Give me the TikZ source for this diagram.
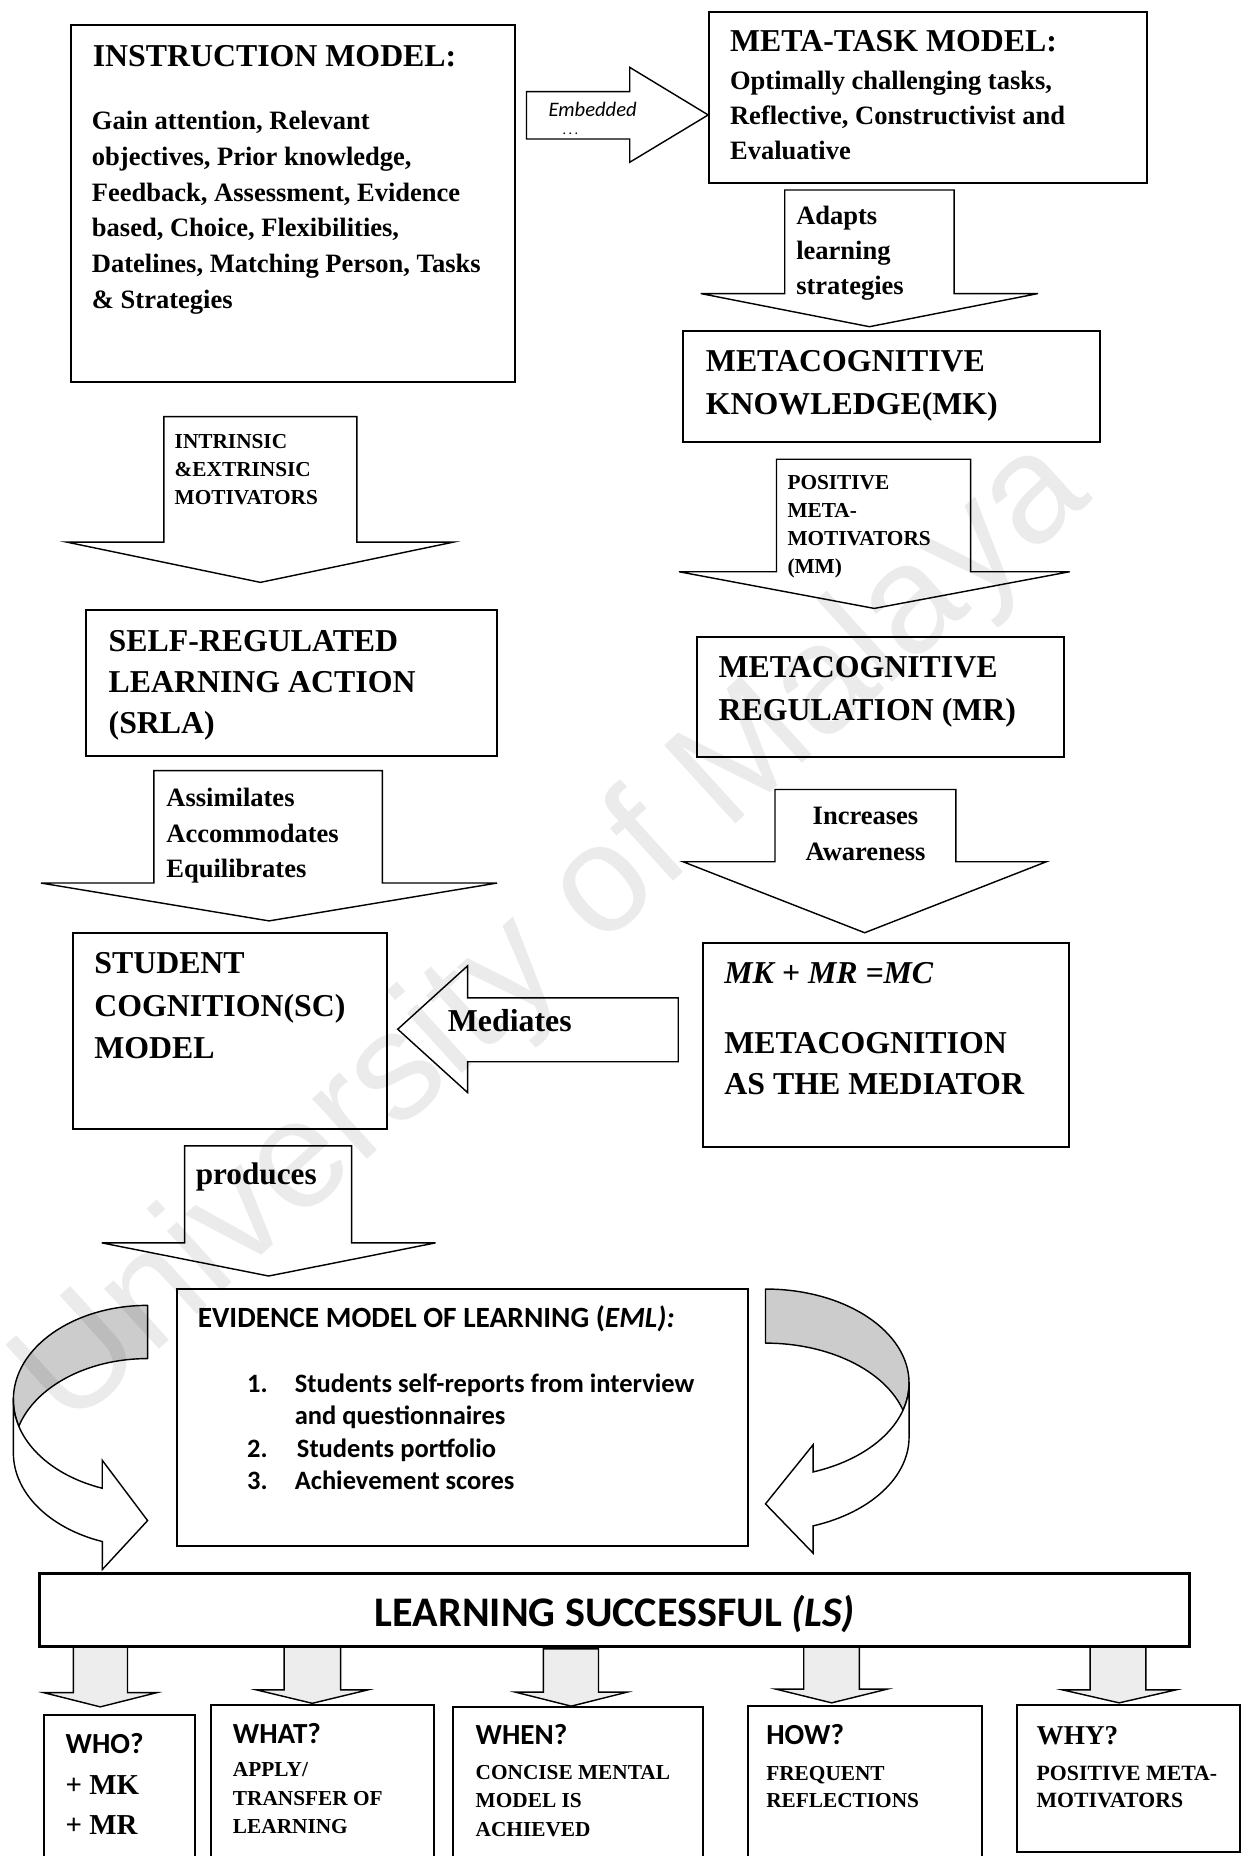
\documentclass[tikz,border=0pt]{standalone}
\usepackage{fontspec}
\setmainfont{Liberation Serif}
\newfontfamily\calibri{Carlito}
\newfontfamily\arialfont{Liberation Sans}
\usetikzlibrary{fit}

% multi-line block whose baseline is that of its first line
\newcommand{\ml}[1]{\begin{tabular}[t]{@{}l@{}}#1\end{tabular}}
\newcommand{\fs}[2]{\fontsize{#1}{#2}\selectfont}
% downward block arrow: style, shaft left, shaft right, top, head base, head left, head right, tip x, tip y
\newcommand{\downblk}[9]{\draw[#1] (#2,#4) -- (#3,#4) -- (#3,#5) -- (#7,#5) -- (#8,#9) -- (#6,#5) -- (#2,#5) -- cycle;}

\begin{document}
\begin{tikzpicture}[x=0.5pt, y=-0.5pt,
  box/.style={draw, line width=0.85pt, fill=white, inner sep=0pt},
  blk/.style={draw, line width=0.6pt, fill=white, line join=miter},
  sblk/.style={draw, line width=0.6pt, fill=black!7, line join=miter},
  lbl/.style={anchor=base west, inner sep=0pt, font=\bfseries},
  clbl/.style={anchor=base west, inner sep=0pt, font={\calibri\bfseries}},
]
\useasboundingbox (0,0) rectangle (1054,1568);
\clip (0,0) rectangle (1054,1568);
\fill[white] (0,0) rectangle (1054,1568);

% ---------- block arrows ----------
% Embedded (pointing right)
\draw[blk] (444.8,77.4) -- (532,77.4) -- (532,56.9) -- (598.3,97.1) -- (532,137.1) -- (532,117.4) -- (444.8,117.4) -- cycle;
% Mediates (pointing left)
\draw[blk] (573,843) -- (395,843) -- (395,816) -- (336,869.5) -- (395,923) -- (395,897) -- (573,897) -- cycle;
% downward arrows
\downblk{blk}{663}{806}{160.5}{248}{592}{877}{734.5}{276}
\downblk{blk}{138.5}{301.5}{352}{458}{56.5}{383}{220}{492}
\downblk{blk}{656}{820}{388}{483}{573.6}{903.7}{738.6}{514}
\downblk{blk}{130}{323}{651}{746}{34.6}{420}{227.3}{778}
\downblk{blk}{654.7}{807.6}{667}{728}{577}{884}{730.5}{788}
\downblk{blk}{156}{297}{968}{1050}{86}{368}{227}{1078}
% small arrows under the LS bar
\downblk{sblk}{62}{107.7}{1391}{1430}{37}{132.4}{84.7}{1442}
\downblk{sblk}{240}{287.7}{1391}{1427.6}{216.5}{311}{263.8}{1439}
\downblk{sblk}{459}{505.6}{1393}{1429.6}{435.6}{529.6}{482.6}{1441.4}
\downblk{sblk}{679}{726}{1391}{1427}{655.5}{749.6}{702.6}{1438.6}
\downblk{sblk}{921}{968}{1391}{1427.6}{897.5}{993.6}{945.5}{1438.6}

% ---------- curved arrows around the evidence box ----------
% left: back face (shaded) and front face with head
\draw[line width=0.6pt, fill=black!20, line join=round]
  (124.7,1102.8) arc[start angle=-90, end angle=-180, x radius=113.4, y radius=79.6]
  arc[start angle=180, end angle=163.6, x radius=113.4, y radius=79.6]
  arc[start angle=196.4, end angle=270, x radius=113.4, y radius=79.6] -- cycle;
\draw[line width=0.6pt, fill=white, line join=miter]
  (11.3,1182.4) -- (11.3,1227.4)
  arc[start angle=180, end angle=109.7, x radius=113.4, y radius=79.6]
  -- (86.4,1326) -- (124.7,1284.6) -- (86.4,1233.7) -- (86.4,1257.3)
  arc[start angle=109.7, end angle=180, x radius=113.4, y radius=79.6] -- cycle;
% right: back face (shaded) and front face with head
\draw[line width=0.6pt, fill=black!20, line join=round]
  (646.7,1089) arc[start angle=-90, end angle=0, x radius=121.3, y radius=79.5]
  arc[start angle=0, end angle=16.7, x radius=121.3, y radius=79.5]
  arc[start angle=-16.7, end angle=-90, x radius=121.3, y radius=79.5] -- cycle;
\draw[line width=0.6pt, fill=white, line join=miter]
  (768,1168.5) -- (768,1214.1)
  arc[start angle=0, end angle=70.6, x radius=121.3, y radius=79.5]
  -- (687,1312.2) -- (646.7,1270.5) -- (687,1220.5) -- (687,1243.5)
  arc[start angle=70.6, end angle=0, x radius=121.3, y radius=79.5] -- cycle;

% ---------- boxes ----------
\node[box, fit={(60,21.1) (435.3,322.4)}] (instr) {};
\node[box, fit={(598.6,9.9) (969,155)}] (meta) {};
\node[box, fit={(577,280) (929,373)}] (mk) {};
\node[box, fit={(73,515) (420,639)}] (srla) {};
\node[box, fit={(588.7,538) (898.6,639.5)}] (mr) {};
\node[box, fit={(62,788) (327,954)}] (sc) {};
\node[box, fit={(593.6,796.6) (903,968.6)}] (mc) {};
\node[box, fit={(149.4,1089) (632,1306.5)}] (eml) {};
\node[box, line width=1.4pt, fit={(33.6,1329.5) (1005,1391)}] (ls) {};
\node[box, fit={(37,1448.5) (164.7,1600)}] (who) {};
\node[box, fit={(178.2,1440) (367,1600)}] (what) {};
\node[box, fit={(382.5,1442) (594,1600)}] (when) {};
\node[box, fit={(632,1441.5) (829.8,1600)}] (how) {};
\node[box, fit={(859.2,1440) (1047.5,1564.4)}] (why) {};

% ---------- texts ----------
\node[lbl] (instrT) at (78,56.3) {\fs{13.45}{16}INSTRUCTION MODEL:};
\node[lbl] (instrB) at (77.3,109.8) {\fs{11.2}{15.05}\ml{Gain attention, Relevant\\objectives, Prior knowledge,\\Feedback, Assessment, Evidence\\based, Choice, Flexibilities,\\Datelines, Matching Person, Tasks\\\& Strategies}};

\node[anchor=base west, inner sep=0pt, font={\calibri\itshape\fs{8.7}{10}}] (emb) at (463,98.5) {Embedded};
\node[anchor=base west, inner sep=0pt, font={\calibri\fs{6}{7}}] (embdots) at (475,113.5) {.\,.\,.};

\node[lbl] (metaT) at (616.4,43.6) {\fs{13.45}{16}META-TASK MODEL:};
\node[lbl] (metaB) at (616.4,76) {\fs{11.2}{14.7}\ml{Optimally challenging tasks,\\Reflective, Constructivist and\\Evaluative}};

\node[lbl] (adT) at (672.3,190) {\fs{11.2}{14.8}\ml{Adapts\\learning\\strategies}};
\node[lbl] (mkT) at (596,313.9) {\fs{13.45}{18.3}\ml{METACOGNITIVE\\KNOWLEDGE(MK)}};

\node[lbl] (inT) at (147.2,378.5) {\fs{9}{11.9}\ml{INTRINSIC\\\&EXTRINSIC\\MOTIVATORS}};
\node[lbl] (posT) at (664.9,413.9) {\fs{9}{11.7}\ml{POSITIVE\\META-\\MOTIVATORS\\(MM)}};

\node[lbl] (srT) at (91.4,550.4) {\fs{13.45}{17.35}\ml{SELF-REGULATED\\LEARNING ACTION\\(SRLA)}};
\node[lbl] (mrT) at (606.7,572) {\fs{13.45}{18.5}\ml{METACOGNITIVE\\REGULATION (MR)}};

\node[lbl] (asT) at (140.2,681.6) {\fs{11.2}{14.9}\ml{Assimilates\\Accommodates\\Equilibrates}};
\node[anchor=base, inner sep=0pt, font=\bfseries] (incT) at (731.2,696.8) {\fs{11.2}{15}\begin{tabular}[t]{@{}c@{}}Increases\\Awareness\end{tabular}};

\node[lbl] (scT) at (79.3,822.6) {\fs{13.45}{18}\ml{STUDENT\\COGNITION(SC)\\MODEL}};
\node[lbl] (medT) at (378,871.3) {\fs{13.45}{16}Mediates};
\node[lbl] (mcT1) at (611.6,831) {\fs{13.45}{16}\itshape MK + MR =MC};
\node[lbl] (mcT2) at (611.6,889.6) {\fs{13.45}{17.6}\ml{METACOGNITION\\AS THE MEDIATOR}};

\node[lbl] (prT) at (165,1000.8) {\fs{13.2}{16}produces};

\node[clbl] (emlT) at (166.7,1121.9) {\fs{12.4}{15}EVIDENCE MODEL OF LEARNING (\textit{EML):}};
\node[clbl] (n1) at (208.4,1176.8) {\fs{11.2}{13.35}1.};
\node[clbl] (l1) at (248.7,1176.8) {\fs{11.2}{13.35}\ml{Students self-reports from interview\\and questionnaires}};
\node[clbl] (n2) at (208.4,1231.7) {\fs{11.2}{13.35}2.};
\node[clbl] (l2) at (250.5,1231.7) {\fs{11.2}{13.35}Students portfolio};
\node[clbl] (n3) at (208.4,1258.4) {\fs{11.2}{13.35}3.};
\node[clbl] (l3) at (248.7,1258.4) {\fs{11.2}{13.35}Achievement scores};

\node[anchor=base, inner sep=0pt, font={\calibri\bfseries}] (lsT) at (519.5,1373.9) {\fs{17.8}{20}LEARNING SUCCESSFUL \textit{(LS)}};

\node[clbl] (whoT) at (55.1,1481.7) {\fs{12.3}{14}WHO?};
\node[lbl] (whoB) at (55,1516) {\fs{12.2}{16.9}\ml{+ MK\\+ MR}};

\node[clbl] (whatT) at (196.4,1473) {\fs{12.3}{14}WHAT?};
\node[lbl] (whatB) at (196.4,1501) {\fs{9}{12}\ml{APPLY/\\TRANSFER OF\\LEARNING}};

\node[clbl] (whenT) at (401.5,1473.8) {\fs{12.3}{14}WHEN?};
\node[lbl] (whenB) at (401.5,1503.4) {\fs{9}{12}\ml{CONCISE MENTAL\\MODEL IS\\ACHIEVED}};

\node[clbl] (howT) at (647,1473.8) {\fs{12.3}{14}HOW?};
\node[lbl] (howB) at (647,1504) {\fs{9}{11.7}\ml{FREQUENT\\REFLECTIONS}};

\node[lbl] (whyT) at (875.4,1473.8) {\fs{11.5}{14}WHY?};
\node[lbl] (whyB) at (875.4,1504) {\fs{9.2}{11.3}\ml{POSITIVE META-\\MOTIVATORS}};

% faint diagonal watermark over the page
\node[anchor=mid, inner sep=0pt, rotate=42.3, text=black, text opacity=0.08,
      font={\arialfont\fs{65}{70}}] (wmark) at (488,812) {University of Malaya};
\end{tikzpicture}
\end{document}
